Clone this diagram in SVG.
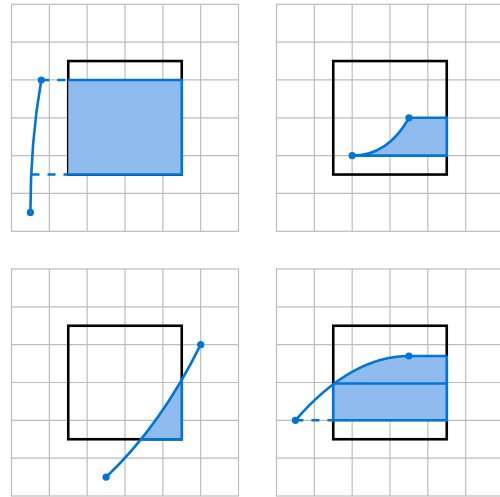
<svg xmlns="http://www.w3.org/2000/svg" width="500" height="497" viewBox="0 0 500 497">
<style>
.grid{fill:none;stroke:#bdbdbd;stroke-width:1.2}
.box{fill:none;stroke:#000;stroke-width:2.6}
.fill{fill:#90bbef;stroke:none}
.bl{fill:none;stroke:#0074d9;stroke-width:2.6}
.area{fill:#90bbef;stroke:#0074d9;stroke-width:2.6}
.dash{fill:none;stroke:#0074d9;stroke-width:2.6;stroke-dasharray:8 8}
.dot{fill:#0074d9}
</style>
<defs>
<g id="grid">
<rect class="grid" x="0" y="0" width="227" height="227"/>
<path class="grid" d="M37.83,0V227M75.67,0V227M113.5,0V227M151.33,0V227M189.17,0V227M0,37.83H227M0,75.67H227M0,113.5H227M0,151.33H227M0,189.17H227"/>
</g>
<clipPath id="clipBL">
<path d="M94.6,208.1Q149,157 189.2,75.7L250,75.7L250,250L94.6,250Z"/>
</clipPath>
<clipPath id="clipBR">
<path d="M18.9,151.3C43.5,123 83.5,87 132.4,87H180V160H18.9Z"/>
</clipPath>
</defs>

<g id="panel-top-left" transform="translate(11.5,4.3)">
<use href="#grid"/>
<rect class="box" x="56.75" y="56.75" width="113.5" height="113.5"/>
<path class="area" d="M56.75,75.7H170.25V170.25H56.75"/>
<path class="dash" d="M29.8,75.7H56.75"/>
<path class="dash" d="M20,170.25H56.75"/>
<path class="bl" d="M18.9,208.1C18.9,160 22,120 29.8,75.7"/>
<circle class="dot" cx="18.9" cy="208.1" r="3.6"/>
<circle class="dot" cx="29.8" cy="75.7" r="3.6"/>
</g>

<g id="panel-top-right" transform="translate(276.5,4.3)">
<use href="#grid"/>
<rect class="box" x="56.75" y="56.75" width="113.5" height="113.5"/>
<path class="area" d="M75.67,151.3Q111.5,151.3 132.4,113.5H170.25V151.3Z"/>
<circle class="dot" cx="75.67" cy="151.3" r="3.6"/>
<circle class="dot" cx="132.4" cy="113.5" r="3.6"/>
</g>

<g id="panel-bottom-left" transform="translate(11.5,269)">
<use href="#grid"/>
<rect class="box" x="56.75" y="56.75" width="113.5" height="113.5"/>
<rect class="area" x="56.75" y="56.75" width="113.5" height="113.5" clip-path="url(#clipBL)"/>
<path class="bl" d="M94.6,208.1Q149,157 189.2,75.7"/>
<circle class="dot" cx="94.6" cy="208.1" r="3.6"/>
<circle class="dot" cx="189.2" cy="75.7" r="3.6"/>
</g>

<g id="panel-bottom-right" transform="translate(276.5,269)">
<use href="#grid"/>
<rect class="box" x="56.75" y="56.75" width="113.5" height="113.5"/>
<rect class="area" x="56.75" y="-10" width="113.5" height="161.3" clip-path="url(#clipBR)"/>
<path class="bl" d="M56.75,114.5H170.25"/>
<path class="dash" d="M18.9,151.3H56.75"/>
<path class="bl" d="M18.9,151.3C43.5,123 83.5,87 132.4,87H170.25"/>
<circle class="dot" cx="18.9" cy="151.3" r="3.6"/>
<circle class="dot" cx="132.4" cy="87" r="3.6"/>
</g>
</svg>
